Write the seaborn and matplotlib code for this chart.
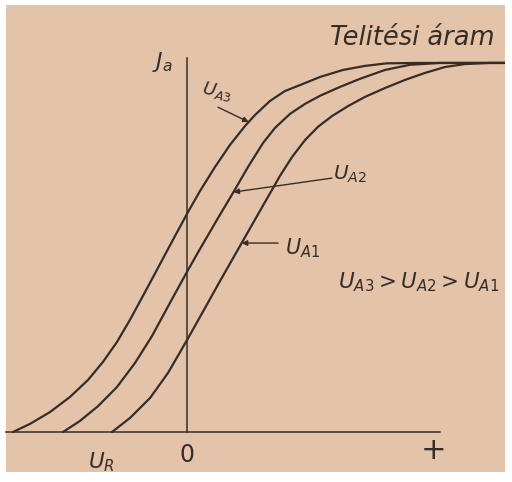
import numpy as np
import pandas as pd
import matplotlib
matplotlib.use("Agg")
import matplotlib.pyplot as plt
import seaborn as sns

# Anode current Ja (% of saturation current) against grid voltage (arbitrary units)
# for three anode voltages U_A1 < U_A2 < U_A3.
u_a3 = [-8.7, -7.85, -6.85, -5.85, -4.95, -4.2, -3.5, -2.85, -2.1, -1.35, -0.6, 0.05,
        0.65, 1.4, 2.15, 2.9, 3.4, 4.15, 4.9, 5.65, 6.65, 7.8, 8.9, 10.0, 11.65, 15.9]
i_a3 = [0.0, 2.2, 5.4, 9.5, 14.1, 19.0, 24.4, 30.4, 37.9, 45.5, 53.1, 59.6,
        65.3, 71.8, 77.8, 82.9, 85.9, 89.7, 92.4, 94.0, 96.2, 98.1, 99.2, 99.9, 100.0, 100.0]

u_a2 = [-6.2, -5.35, -4.45, -3.5, -2.6, -1.75, -0.85, 0.0, 0.65, 1.5, 2.3, 3.05,
        3.8, 4.4, 5.15, 5.9, 6.65, 7.65, 8.65, 9.9, 11.15, 12.65, 15.9]
i_a2 = [0.0, 3.0, 7.0, 12.2, 18.7, 26.0, 35.0, 43.4, 49.6, 57.5, 64.8, 71.8,
        78.3, 82.4, 86.2, 88.9, 91.1, 93.5, 95.7, 98.1, 99.5, 100.0, 100.0]

u_a1 = [-3.75, -2.85, -1.85, -0.95, 0.0, 0.9, 1.65, 2.65, 3.3, 3.9, 4.65, 5.25,
        5.9, 6.55, 7.25, 8.05, 8.9, 9.9, 10.9, 11.9, 12.9, 13.9, 15.15, 15.9]
i_a1 = [0.0, 3.8, 9.2, 16.0, 24.9, 33.6, 40.9, 50.4, 56.6, 62.3, 69.4, 74.5,
        79.1, 82.7, 85.6, 88.3, 90.8, 93.2, 95.4, 97.3, 98.9, 99.7, 100.0, 100.0]

curve_names = ["UA3", "UA2", "UA1"]

frames = []
for name, u, i in zip(curve_names, [u_a3, u_a2, u_a1], [i_a3, i_a2, i_a1]):
    frames.append(pd.DataFrame({"U": u, "I": i, "curve": name}))
df = pd.concat(frames, ignore_index=True)

ink = "#3a2c22"
paper = "#e4c3ab"

sns.set_theme(style="white")
plt.rcParams["mathtext.fontset"] = "dejavusans"
plt.rcParams["mathtext.default"] = "it"
plt.rcParams["font.family"] = ["DejaVu Sans"]

fig = plt.figure(figsize=(5.12, 4.82), dpi=100, facecolor="white")
ax = fig.add_axes([6 / 512, 10 / 482, 499 / 512, 467 / 482])
ax.set_facecolor(paper)

sns.lineplot(data=df, x="U", y="I", hue="curve", units="curve", estimator=None,
             sort=False, palette={n: ink for n in curve_names}, linewidth=1.6,
             legend=False, ax=ax)
for line in ax.get_lines():
    line.set_solid_joinstyle("round")
    line.set_solid_capstyle("round")

ax.set_xlim(-9.05, 15.9)
ax.set_ylim(-10.84, 115.7)
ax.set_xticks([])
ax.set_yticks([])
ax.set_xlabel("")
ax.set_ylabel("")

# coordinate axes drawn as spines crossing at the origin
for side in ("top", "right"):
    ax.spines[side].set_visible(False)
ax.spines["left"].set_position(("data", 0))
ax.spines["bottom"].set_position(("data", 0))
ax.spines["left"].set_bounds(0, 101.4)
ax.spines["bottom"].set_bounds(-9.05, 12.65)
for side in ("left", "bottom"):
    ax.spines[side].set_color(ink)
    ax.spines[side].set_linewidth(1.1)

txt = dict(color=ink, fontstyle="italic", clip_on=False)
ax.text(7.15, 104.9, "Telitési áram", fontsize=18.5, ha="left", va="baseline", **txt)
ax.text(-1.75, 98.5, r"$J_a$", fontsize=16, ha="left", va="baseline", **txt)
ax.text(0.65, 90.0, r"$U_{A3}$", fontsize=13, ha="left", va="baseline", rotation=-12, **txt)
ax.text(7.3, 68.3, r"$U_{A2}$", fontsize=14.5, ha="left", va="baseline", **txt)
ax.text(4.9, 48.0, r"$U_{A1}$", fontsize=15, ha="left", va="baseline", **txt)
ax.text(7.55, 39.0, r"$U_{A3} > U_{A2} > U_{A1}$", fontsize=15.5, ha="left", va="baseline", **txt)
ax.text(-4.95, -9.9, r"$U_R$", fontsize=15.5, ha="left", va="baseline", **txt)
ax.text(-0.4, -8.1, r"$0$", fontsize=17, ha="left", va="baseline", **txt)
ax.text(12.35, -4.9, "+", fontsize=22, ha="center", va="center", color=ink, clip_on=False)


def point_on(u, i, level):
    """Voltage where a curve reaches the given current level."""
    end = i.index(100.0) + 1
    return float(np.interp(level, i[:end], u[:end]))


arrow = dict(arrowstyle="-|>", color=ink, lw=1.0, mutation_scale=8, shrinkA=0, shrinkB=0)
for (u, i, level, tail) in [
    (u_a3, i_a3, 84.0, (1.55, 88.0)),
    (u_a2, i_a2, 65.0, (7.25, 68.8)),
    (u_a1, i_a1, 51.2, (4.55, 51.2)),
]:
    ax.annotate("", xy=(point_on(u, i, level), level), xytext=tail, arrowprops=arrow)

fig.savefig("out.png", dpi=100, facecolor="white")
